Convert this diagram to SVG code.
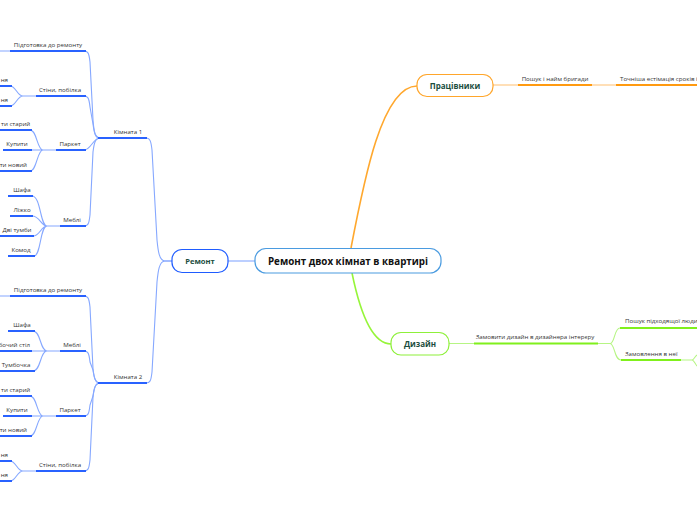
<svg xmlns="http://www.w3.org/2000/svg" width="697" height="520" viewBox="0 0 697 520">
<style>
text{font-family:"Open Sans","Noto Sans","Liberation Sans",sans-serif;fill:#333}
.s{font-size:6.15px}
.m{text-anchor:middle}
.e{text-anchor:end}
.n{font-size:8px;font-weight:bold;fill:#1b4d3e;text-anchor:middle}
.c{font-size:9.8px;font-weight:bold;fill:#111;text-anchor:middle}
.bu{stroke:#2962ff;stroke-width:2;fill:none}
.bc{stroke:#86a8ff;stroke-width:1.1;fill:none}
.ou{stroke:#ff9a10;stroke-width:2;fill:none}
.oc{stroke:#ffc070;stroke-width:1.1;fill:none}
.om{stroke:#ffa82e;stroke-width:1.6;fill:none}
.gu{stroke:#80f01c;stroke-width:2;fill:none}
.gc{stroke:#b6f584;stroke-width:1.1;fill:none}
.gm{stroke:#96f53a;stroke-width:1.6;fill:none}
</style>
<rect width="697" height="520" fill="#fff"/>
<g id="connectors">
<path class="bc" d="M255,261 L228,261"/>
<path class="bc" d="M172,261 L165,261 C159,261 158,250 157,240 L152,150 C151,141 150,138 146,138"/>
<path class="bc" d="M172,261 L165,261 C159,261 158,272 157,282 L152,372 C151,381 150,383 146,383"/>
<path class="bc" d="M100,138 C95,138 94,132 93,120 L90,62 C89,53 88,51 84,51"/>
<path class="bc" d="M100,138 C95,138 94,132 93,124 L90,107 C89,98 88,96 84,96"/>
<path class="bc" d="M100,138 C93,138 91,150 84,150"/>
<path class="bc" d="M100,138 C95,138 94,144 93,152 L90,215 C89,224 88,226 84,226"/>
<path class="bc" d="M100,383 C95,383 94,377 93,369 L90,307 C89,298 88,296 84,296"/>
<path class="bc" d="M100,383 C95,383 94,377 93,370 L90,362 C89,353 88,351 84,351"/>
<path class="bc" d="M100,383 C95,383 94,389 93,396 L90,405 C89,414 88,416 84,416"/>
<path class="bc" d="M100,383 C95,383 94,389 93,397 L90,460 C89,469 88,471 84,471"/>
<path class="bc" d="M0,51 L10,51 M0,296 L10,296"/>
<path class="bc" d="M36,96 L23,96 C17,96 16,86 10,86 M23,96 C17,96 16,106 10,106"/>
<path class="bc" d="M36,471 L23,471 C17,471 16,461 10,461 M23,471 C17,471 16,481 10,481"/>
<path class="bc" d="M56,150 L43,150 C37,150 37,130 30,130 M43,150 L30,150 M43,150 C37,150 37,171 30,171"/>
<path class="bc" d="M56,416 L43,416 C37,416 37,396 30,396 M43,416 L30,416 M43,416 C37,416 37,436 30,436"/>
<path class="bc" d="M60,226 L47,226 C40,226 41,196 32,196 M47,226 C41,226 40,216 32,216 M47,226 C41,226 40,236 33,236 M47,226 C40,226 41,256 34,256"/>
<path class="bc" d="M60,351 L47,351 C40,351 41,331 33,331 M47,351 L31,351 M47,351 C40,351 41,371 33,371"/>
<path class="om" d="M351,248 C364,180 382,86 417,86"/>
<path class="oc" d="M493,85 L518,85 M592,85 L616,85"/>
<path class="gm" d="M352,273 C360,312 372,344 391,344"/>
<path class="gc" d="M449,343.5 L474,343.5 M598,343.5 L610,343.5 C615,343.5 614,328 620,328 M610,343.5 C615,343.5 614,360 621,360"/>
<path class="gc" d="M681,360 L692,360 C694,360 695,356 697,355 M692,360 C694,360 695,364 697,366"/>
</g>
<g id="central"><rect x="255" y="248.5" width="186" height="24.5" rx="11" fill="#fff" stroke="#4a9be0" stroke-width="1.2"/><text class="c" x="348" y="264.5">Ремонт двох кімнат в квартирі</text></g>
<g id="remont"><rect x="172" y="249.5" width="56" height="23" rx="10" fill="#fff" stroke="#1f5cff" stroke-width="1.2"/><text class="n" x="200" y="264" style="font-size:7.6px">Ремонт</text></g>
<g id="room1"><line class="bu" x1="98" y1="138" x2="147" y2="138"/><text class="s m" x="128" y="134">Кімната 1</text></g>
<g id="room2"><line class="bu" x1="98" y1="383" x2="147" y2="383"/><text class="s m" x="128" y="379">Кімната 2</text></g>
<g id="prep1"><line class="bu" x1="10" y1="51" x2="86" y2="51"/><text class="s m" x="48" y="47">Підготовка до ремонту</text></g>
<g id="walls1"><line class="bu" x1="36" y1="96" x2="86" y2="96"/><text class="s m" x="60" y="92">Стіни, побілка</text></g>
<g id="walls1a"><line class="bu" x1="0" y1="86" x2="12" y2="86"/><text class="s e" x="8" y="82">ня</text></g>
<g id="walls1b"><line class="bu" x1="0" y1="106" x2="12" y2="106"/><text class="s e" x="8" y="102">ня</text></g>
<g id="parquet1"><line class="bu" x1="56" y1="150" x2="86" y2="150"/><text class="s m" x="70" y="146">Паркет</text></g>
<g id="parquet1a"><line class="bu" x1="0" y1="130" x2="32" y2="130"/><text class="s" x="1" y="126">ти старий</text></g>
<g id="parquet1b"><line class="bu" x1="3" y1="150" x2="32" y2="150"/><text class="s m" x="17" y="146">Купити</text></g>
<g id="parquet1c"><line class="bu" x1="0" y1="171" x2="32" y2="171"/><text class="s e" x="27" y="167">ти новий</text></g>
<g id="furn1"><line class="bu" x1="60" y1="226" x2="86" y2="226"/><text class="s m" x="72" y="222">Меблі</text></g>
<g id="furn1a"><line class="bu" x1="8" y1="196" x2="33" y2="196"/><text class="s m" x="22" y="192">Шафа</text></g>
<g id="furn1b"><line class="bu" x1="10" y1="216" x2="33" y2="216"/><text class="s m" x="22" y="212">Ліжко</text></g>
<g id="furn1c"><line class="bu" x1="0" y1="236" x2="34" y2="236"/><text class="s m" x="17" y="232">Дві тумби</text></g>
<g id="furn1d"><line class="bu" x1="8" y1="256" x2="35" y2="256"/><text class="s m" x="21" y="252">Комод</text></g>
<g id="prep2"><line class="bu" x1="10" y1="296" x2="86" y2="296"/><text class="s m" x="48" y="292">Підготовка до ремонту</text></g>
<g id="furn2"><line class="bu" x1="60" y1="351" x2="86" y2="351"/><text class="s m" x="72" y="347">Меблі</text></g>
<g id="furn2a"><line class="bu" x1="8" y1="331" x2="35" y2="331"/><text class="s m" x="22" y="327">Шафа</text></g>
<g id="furn2b"><line class="bu" x1="0" y1="351" x2="32" y2="351"/><text class="s e" x="30" y="347">бочий стіл</text></g>
<g id="furn2c"><line class="bu" x1="0" y1="371" x2="35" y2="371"/><text class="s m" x="16" y="367">Тумбочка</text></g>
<g id="parquet2"><line class="bu" x1="56" y1="416" x2="86" y2="416"/><text class="s m" x="70" y="412">Паркет</text></g>
<g id="parquet2a"><line class="bu" x1="0" y1="396" x2="32" y2="396"/><text class="s" x="1" y="392">ти старий</text></g>
<g id="parquet2b"><line class="bu" x1="3" y1="416" x2="32" y2="416"/><text class="s m" x="17" y="412">Купити</text></g>
<g id="parquet2c"><line class="bu" x1="0" y1="436" x2="32" y2="436"/><text class="s e" x="27" y="432">ти новий</text></g>
<g id="walls2"><line class="bu" x1="36" y1="471" x2="86" y2="471"/><text class="s m" x="60" y="467">Стіни, побілка</text></g>
<g id="walls2a"><line class="bu" x1="0" y1="461" x2="12" y2="461"/><text class="s e" x="8" y="457">ня</text></g>
<g id="walls2b"><line class="bu" x1="0" y1="481" x2="12" y2="481"/><text class="s e" x="8" y="477">ня</text></g>
<g id="workers"><rect x="417" y="74.5" width="76" height="22" rx="10" fill="#fff" stroke="#ffa62b" stroke-width="1.2"/><text class="n" x="455" y="88.5">Працівники</text></g>
<g id="search"><line class="ou" x1="518" y1="85" x2="592" y2="85"/><text class="s m" x="555" y="81">Пошук і найм бригади</text></g>
<g id="estimate"><line class="ou" x1="616" y1="85" x2="697" y2="85"/><text class="s" x="620" y="81">Точніша естімація сроків і</text></g>
<g id="design"><rect x="391" y="332.5" width="58" height="22.5" rx="10" fill="#fff" stroke="#8ef03a" stroke-width="1.2"/><text class="n" x="420" y="347">Дизайн</text></g>
<g id="order"><line class="gu" x1="474" y1="343.5" x2="598" y2="343.5"/><text class="s m" x="535" y="339">Замовити дизайн в дизайнера інтерєру</text></g>
<g id="find"><line class="gu" x1="620" y1="328" x2="697" y2="328"/><text class="s" x="625" y="323">Пошук підходящої люди</text></g>
<g id="orderher"><line class="gu" x1="621" y1="360" x2="681" y2="360"/><text class="s" x="625" y="356">Замовлення в неї</text></g>
</svg>
